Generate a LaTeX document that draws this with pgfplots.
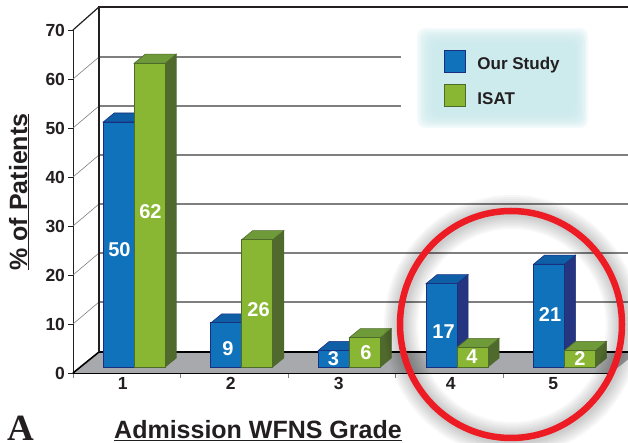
\documentclass[border=0pt]{standalone}
\usepackage{fontspec}
\usepackage{pgfplots}
\pgfplotsset{compat=1.18}
\setmainfont{Liberation Sans}
\newfontfamily\serifA{Liberation Serif}
\definecolor{ink}{HTML}{231F20}
\definecolor{bluefront}{HTML}{0F72BA}
\definecolor{blueedge}{HTML}{1B2F7F}
\definecolor{bluetop}{HTML}{0E5FA5}
\definecolor{blueside}{HTML}{25357F}
\definecolor{greenfront}{HTML}{8AB733}
\definecolor{greenedge}{HTML}{4F6B2C}
\definecolor{greentop}{HTML}{6F9A3A}
\definecolor{greenside}{HTML}{50692D}
\definecolor{floorgray}{HTML}{A7A9AC}
\definecolor{gridgray}{HTML}{7F7F7F}
\definecolor{legbg}{HTML}{C9E8EB}
\definecolor{ringred}{HTML}{ED1C24}
% faces of one bar: category, left offset in px, value, top colour, side colour, edge
\newcommand\barfaces[6]{%
  \pgfmathsetmacro\xa{#1+(#2)/107.6}%
  \pgfmathsetmacro\xb{\xa+31/107.6}%
  \pgfmathsetmacro\xc{\xa+11/107.6}%
  \pgfmathsetmacro\xd{\xb+11/107.6}%
  \pgfmathsetmacro\vt{#3+1.84}%
  \edef\tmp{\noexpand\addplot[forget plot,fill=#5,draw=#6,line width=.6pt]
    coordinates {(\xb,0)(\xd,1.84)(\xd,\vt)(\xb,#3)} -- cycle;
    \noexpand\addplot[forget plot,fill=#4,draw=#6,line width=.6pt]
    coordinates {(\xa,#3)(\xb,#3)(\xd,\vt)(\xc,\vt)} -- cycle;}%
  \tmp}
\newcommand\gridl[2]{%
  \pgfmathsetmacro\vb{#1+4.49}%
  \edef\tmp{\noexpand\addplot[forget plot,gridgray,line width=.6pt] coordinates {(0.5,#1)(0.7416,\vb)};
    \noexpand\addplot[forget plot,gridgray,line width=1.3pt] coordinates {(0.7416,\vb)(#2,\vb)};}%
  \tmp}
\newcommand\T[3]{\node[text=white,font=\fontsize{20}{20}\selectfont\bfseries,inner sep=0pt] at (#1pt,{443pt-#2pt}) {#3};}
\begin{document}
\begin{tikzpicture}[x=1pt,y=1pt]
\useasboundingbox (0,0) rectangle (628,443);
% frame, ticks and floor
\begin{axis}[
  at={(73pt,70pt)},anchor=south west,scale only axis,
  width=538pt,height=343pt,
  xmin=0.5,xmax=5.5,ymin=0,ymax=70,clip=false,
  axis x line*=bottom,axis y line*=left,
  x axis line style={-,black,line width=2pt},
  y axis line style={-,ink,line width=.8pt},
  xtick={0.5,1.5,2.5,3.5,4.5,5.5},xticklabels={},
  ytick={0,10,...,70},
  extra x ticks={0.963,1.967,2.97,4.01,4.963},
  extra x tick labels={1,2,3,4,5},
  extra x tick style={major tick length=0pt},
  tick align=outside,
  major tick length=5pt,
  x tick style={gridgray,line width=1pt},
  y tick style={ink,line width=.8pt},
  /pgf/number format/assume math mode=true,
  tick label style={font=\fontsize{17.5}{17.5}\selectfont\bfseries,text=ink},
  xticklabel style={yshift=-1pt},
  yticklabel style={xshift=0.5pt},
]
\gridl{10}{5.658}
\gridl{20}{5.658}
\gridl{30}{5.658}
\gridl{40}{5.658}
\gridl{50}{3.548}
\gridl{60}{3.548}
\addplot[forget plot,fill=floorgray,draw=none] coordinates {(0.5,0)(5.5,0)(5.658,2.76)(5.658,4.29)(0.7416,4.29)} -- cycle;
\addplot[forget plot,black,line width=1.6pt] coordinates {(0.5,0)(0.7416,4.29)(5.658,4.29)};
\addplot[forget plot,ink,line width=1.3pt] coordinates {(0.7416,4.29)(0.7416,74.7)(5.658,74.7)};
\addplot[forget plot,ink,line width=1.2pt] coordinates {(0.5,70)(0.7416,74.7)};
\end{axis}
% legend panel
\foreach \i in {0,...,9}{
  \fill[legbg,opacity=.22,rounded corners=8pt] ({417+1.9*\i},{443-128+1.7*\i}) rectangle ({588-1.6*\i},{443-28-1.8*\i});
}
% bars
\begin{axis}[
  at={(73pt,76pt)},anchor=south west,scale only axis,
  width=538pt,height=337pt,
  xmin=0.5,xmax=5.5,ymin=0,ymax=68.78,clip=false,
  axis lines=none,
  legend style={at={(0.6896,0.942)},anchor=north west,draw=none,fill=none,
    inner sep=0pt,outer sep=0pt,font=\fontsize{17}{17}\selectfont\bfseries,text=ink,
    row sep=12pt,nodes={inner sep=0pt}},
  legend cell align=left,
  legend image code/.code={\path[draw=none,fill=none] (0pt,0pt) -- (33pt,0pt);\draw[#1,line width=.9pt] (0pt,-8pt) rectangle (21pt,14pt);},
]
\barfaces{1}{-23.6}{50}{bluetop}{blueside}{blueedge}
\barfaces{2}{-23.6}{9}{bluetop}{blueside}{blueedge}
\barfaces{3}{-23.6}{3.4}{bluetop}{blueside}{blueedge}
\barfaces{4}{-23.6}{17}{bluetop}{blueside}{blueedge}
\barfaces{5}{-23.6}{21}{bluetop}{blueside}{blueedge}
\addplot[ybar,bar width=31pt,bar shift=-8.1pt,fill=bluefront,draw=blueedge,line width=.8pt]
  coordinates {(1,50)(2,9)(3,3.4)(4,17)(5,21)};
\addlegendentry{Our Study}
\barfaces{1}{7.4}{62}{greentop}{greenside}{greenedge}
\barfaces{2}{7.4}{26}{greentop}{greenside}{greenedge}
\barfaces{3}{7.4}{6}{greentop}{greenside}{greenedge}
\barfaces{4}{7.4}{4}{greentop}{greenside}{greenedge}
\barfaces{5}{7.4}{3.4}{greentop}{greenside}{greenedge}
\addplot[ybar,bar width=31pt,bar shift=22.9pt,fill=greenfront,draw=greenedge,line width=.8pt]
  coordinates {(1,62)(2,26)(3,6)(4,4)(5,3.4)};
\addlegendentry{ISAT}
\end{axis}
\T{119.5}{250}{50}
\T{150.5}{212}{62}
\T{228}{349}{9}
\T{258.5}{309.5}{26}
\T{333.5}{358.5}{3}
\T{366}{352.5}{6}
\T{443.5}{332}{17}
\T{472}{357}{4}
\T{550}{315}{21}
\T{580}{358.5}{2}
% axis titles
\node[rotate=90,anchor=base,text=ink,font=\fontsize{25}{25}\selectfont\bfseries,inner sep=0pt] at (27,251) {\underline{\% of Patients}};
\node[anchor=base west,text=ink,font=\fontsize{25}{25}\selectfont\bfseries,inner sep=0pt] at (114,4.5) {\underline{Admission WFNS Grade}};
\node[anchor=base west,text=ink,font=\fontsize{37}{37}\serifA\bfseries,inner sep=0pt] at (7,2) {A};
% highlighting ring with soft shadow
\begin{scope}
\clip (0,0) rectangle (628,443);
\foreach \w in {34,30,26,22,18,14,10}{
  \draw[black,opacity=.03,line width=\w pt] (512,117.5) ellipse [x radius=111,y radius=113.5];
}
\draw[ringred,line width=6.5pt] (511,118.5) ellipse [x radius=111,y radius=113.5];
\end{scope}
\end{tikzpicture}
\end{document}
